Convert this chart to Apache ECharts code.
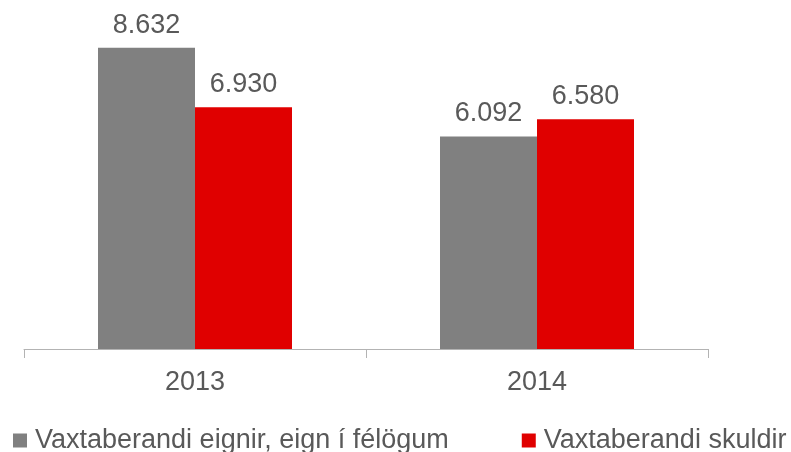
<!DOCTYPE html>
<html>
<head>
<meta charset="utf-8">
<script src="https://cdn.jsdelivr.net/npm/echarts@6/dist/echarts.min.js"></script>
<style>
  html, body { margin: 0; padding: 0; background: #fff; }
  #chart { width: 791px; height: 452px; }
</style>
</head>
<body>
<div id="chart"></div>
<script>
const categories = ["2013", "2014"];
const eignir = [8.632, 6.092];
const skuldir = [6.93, 6.58];
const seriesNames = ["Vaxtaberandi eignir, eign í félögum", "Vaxtaberandi skuldir"];

const font = "'Liberation Sans', Arial, sans-serif";
const textColor = "#595959";

// shown with 3 decimals, like the source chart
function fmt(v) {
  return v.toFixed(3);
}

const chart = echarts.init(document.getElementById("chart"), null, { renderer: "canvas" });

chart.setOption({
  animation: false,
  textStyle: { fontFamily: font },
  grid: { left: 24, right: 83, top: 0, bottom: 103, containLabel: false },
  legend: {
    left: 13,
    top: 427,
    padding: 0,
    itemWidth: 14,
    itemHeight: 14,
    itemGap: 73,
    icon: "rect",
    textStyle: { fontSize: 27, color: textColor, fontFamily: font, padding: [0, 0, 0, 3] },
    data: seriesNames
  },
  xAxis: {
    type: "category",
    data: categories,
    axisLine: { lineStyle: { color: "#b3b3b3", width: 1 } },
    axisTick: { show: true, length: 9, lineStyle: { color: "#b3b3b3" } },
    axisLabel: { fontSize: 27, color: textColor, margin: 20, fontFamily: font }
  },
  yAxis: {
    type: "value",
    min: 0,
    max: 10,
    show: false,
    splitLine: { show: false }
  },
  series: [
    {
      name: seriesNames[0],
      type: "bar",
      data: eignir,
      barWidth: 97,
      barGap: "0%",
      itemStyle: { color: "#808080" },
      label: {
        show: true,
        position: "top",
        distance: 9,
        fontSize: 27,
        color: textColor,
        fontFamily: font,
        formatter: (p) => fmt(p.value)
      }
    },
    {
      name: seriesNames[1],
      type: "bar",
      data: skuldir,
      barWidth: 97,
      barGap: "0%",
      itemStyle: { color: "#e00000" },
      label: {
        show: true,
        position: "top",
        distance: 9,
        fontSize: 27,
        color: textColor,
        fontFamily: font,
        formatter: (p) => fmt(p.value)
      }
    }
  ]
});
</script>
</body>
</html>
